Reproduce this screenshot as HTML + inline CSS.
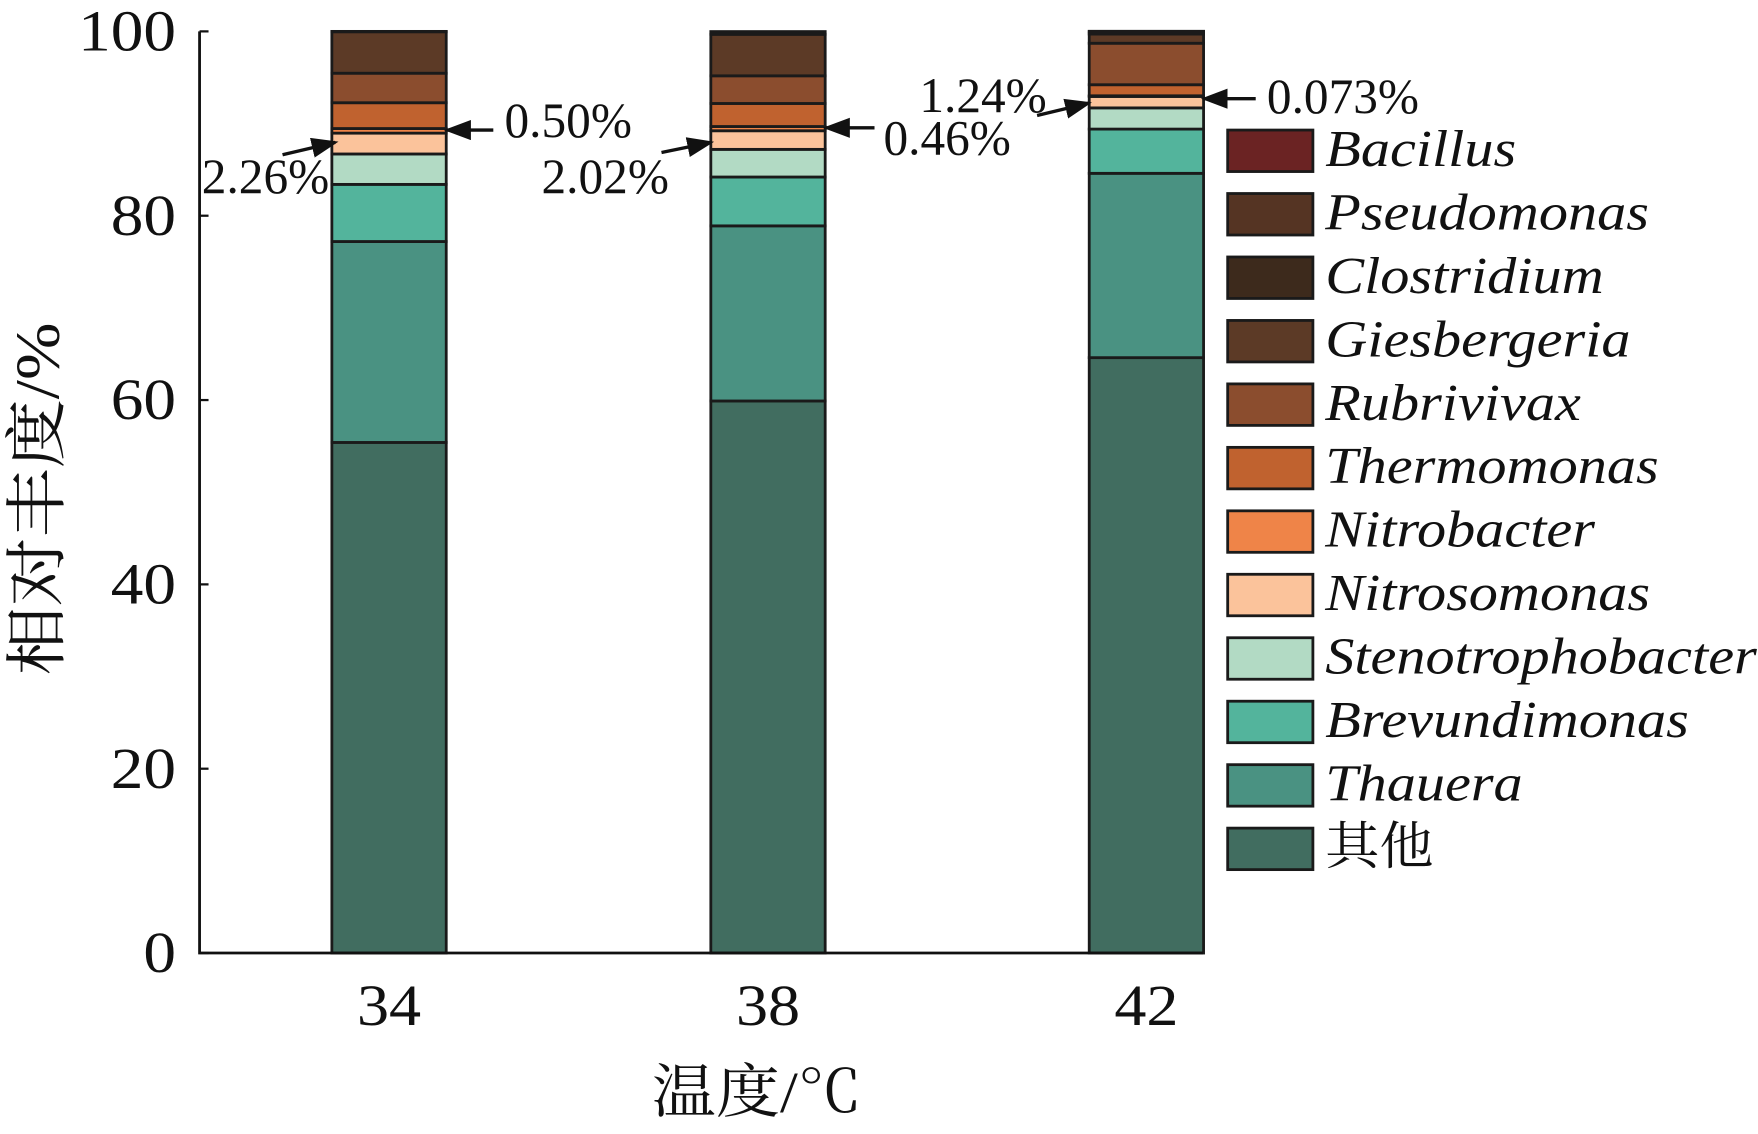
<!DOCTYPE html>
<html><head><meta charset="utf-8"><style>
html,body{margin:0;padding:0;background:#fff;}
svg{display:block;}
text{font-family:"Liberation Serif","Noto Serif CJK SC",serif;fill:#111;}
</style></head><body>
<svg id="chart" width="1758" height="1134" viewBox="0 0 1568 1011.4" preserveAspectRatio="none" xmlns="http://www.w3.org/2000/svg">
<g id="bars"></g>
<g id="axes"></g>
<g id="legend"></g>
<g id="notes"></g>
</svg>
<script>
const categories = ["34","38","42"];
const seriesNames = ["其他","Thauera","Brevundimonas","Stenotrophobacter","Nitrosomonas","Nitrobacter","Thermomonas","Rubrivivax","Giesbergeria","Clostridium","Pseudomonas","Bacillus"];
const s_other   = [55.4, 59.9, 64.6];
const s_thauera = [21.8, 19.0, 20.0];
const s_brev    = [6.2, 5.3, 4.8];
const s_steno   = [3.3, 3.0, 2.3];
const s_nitroso = [2.26, 2.02, 1.24];
const s_nitrob  = [0.50, 0.46, 0.073];
const s_thermo  = [2.8, 2.5, 1.2];
const s_rubri   = [3.2, 3.0, 4.5];
const s_gies    = [4.5, 4.5, 1.0];
const s_clost   = [0.04, 0.3, 0.25];
const s_pseudo  = [0, 0, 0];
const s_bac     = [0, 0, 0.05];
const yTicks = [0,20,40,60,80,100];
const series = [s_other,s_thauera,s_brev,s_steno,s_nitroso,s_nitrob,s_thermo,s_rubri,s_gies,s_clost,s_pseudo,s_bac];
const colors = ["#416d60","#4a9282","#53b49c","#b2dac4","#fbc39b","#ef8448","#c0622f","#8b4d2e","#5c3a26","#3d2a1c","#553423","#6b2323"];
const NS="http://www.w3.org/2000/svg";
const X0=178,X1=1073,Y0=850,Y1=28;
function yScale(v){return Y0-(v/100)*(Y0-Y1);}
const centers=[347,685,1022.5];
function xScale(i){return centers[i];}
const BW=102;
function mk(tag,attrs,parent){const e=document.createElementNS(NS,tag);for(const k in attrs)e.setAttribute(k,attrs[k]);parent.appendChild(e);return e;}
function stretch(t,f){const w=t.getComputedTextLength();t.setAttribute('textLength',w*f);t.setAttribute('lengthAdjust','spacingAndGlyphs');}
const bars=document.getElementById('bars');
categories.forEach((c,i)=>{
  let acc=0;
  series.forEach((s,j)=>{
    const v=s[i]; if(v<=0){return;}
    const yt=yScale(acc+v), yb=yScale(acc);
    const r=mk('rect',{x:xScale(i)-BW/2,y:yt,width:BW,height:yb-yt,fill:colors[j],stroke:"#1a1a1a","stroke-width":2.5},bars);
    
    
    acc+=v;
  });
});
const axes=document.getElementById('axes');
let l=mk('path',{d:`M${X0},${Y1} L${X0},${Y0} L${X1},${Y0}`,fill:"none",stroke:"#111","stroke-width":2.5},axes);


yTicks.forEach(t=>{
  const tx=mk('text',{x:157,y:yScale(t)+17,"text-anchor":"end","font-size":52},axes);
  tx.textContent=t;
  
  
  stretch(tx,1.12);
  const tk=mk('line',{x1:X0,x2:X0+8,y1:yScale(t),y2:yScale(t),stroke:"#111","stroke-width":2},axes);
  
  
});
categories.forEach((c,i)=>{
  const tx=mk('text',{x:xScale(i),y:914,"text-anchor":"middle","font-size":52},axes);
  tx.textContent=c;
  
  
  stretch(tx,1.1);
});
let xt=mk('text',{x:675,y:992,"text-anchor":"middle","font-size":52},axes);
xt.textContent="温度/℃";


stretch(xt,1.1);
let yt=mk('text',{x:0,y:0,"text-anchor":"middle","font-size":56,transform:"translate(52,445) rotate(-90)"},axes);
yt.textContent="相对丰度/%";


stretch(yt,1.1);
const legend=document.getElementById('legend');
for(let k=0;k<12;k++){
  const j=11-k; const y=116+k*56.6;
  const r=mk('rect',{x:1095,y:y,width:76,height:37,fill:colors[j],stroke:"#1a1a1a","stroke-width":2.5},legend);
  
  
  const t=mk('text',{x:1182,y:y+32,"font-size":46,"font-style":j===0?"normal":"italic"},legend);
  t.textContent=seriesNames[j];
  
  
  stretch(t,j===0?1.05:1.13);
}
const notes=document.getElementById('notes');
mk('defs',{},notes).innerHTML='<marker id="ah" markerWidth="8" markerHeight="6" refX="7" refY="3" orient="auto" markerUnits="strokeWidth"><path d="M0,0 L8,3 L0,6 Z" fill="#111"/></marker>';
const ann=[["2.26%",180,172,252,138,299,127],["0.50%",450,122,440,116,399,116],["2.02%",483,172,590,136,634,127],["0.46%",788,138,780,114,737,114],["1.24%",820,100,925,103,971,92],["0.073%",1130,101,1120,88,1074,88]];
ann.forEach(a=>{
  const t=mk('text',{x:a[1],y:a[2],"font-size":44},notes);
  t.textContent=a[0];
  
  
  const ln=mk('line',{x1:a[3],y1:a[4],x2:a[5],y2:a[6],stroke:"#111","stroke-width":3,"marker-end":"url(#ah)"},notes);
  
  
});
</script>
</body></html>
